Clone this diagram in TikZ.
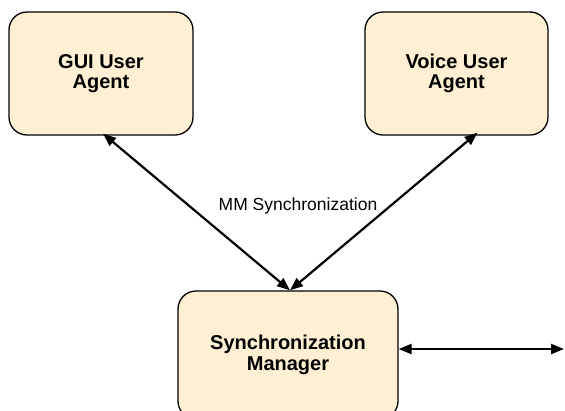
\documentclass[tikz,border=0pt]{standalone}
\usepackage{fontspec}
\setmainfont{Liberation Sans}
\usetikzlibrary{arrows.meta}
\definecolor{boxfill}{RGB}{255,240,212}
\tikzset{
  agentbox/.style={draw=black, line width=1.3pt, fill=boxfill, rounded corners=18pt,
    inner sep=0pt, align=center, font=\fontsize{20}{20.5}\selectfont\bfseries},
  conn/.style={line width=2.2pt, {Triangle[length=13pt,width=10pt]}-{Triangle[length=13pt,width=10pt]}},
  lbl/.style={font=\fontsize{17.5}{20}\selectfont, inner sep=0pt}
}
\begin{document}
\begin{tikzpicture}[x=1pt,y=-1pt]
\useasboundingbox (0,0) rectangle (565,410);
\clip (0,0) rectangle (565,410);
\node[agentbox, minimum width=184pt, minimum height=123pt] (gui) at (101,73.5) {\raisebox{-2pt}{\parbox{170pt}{\centering GUI User\\Agent}}};
\node[agentbox, minimum width=183pt, minimum height=123pt] (voice) at (456.5,73.5) {\raisebox{-2pt}{\parbox{170pt}{\centering Voice User\\Agent}}};
\node[agentbox, minimum width=220pt, minimum height=128pt] (sync) at (288,355) {\raisebox{-1pt}{\parbox{200pt}{\centering Synchronization\\Manager}}};
\coordinate (rend) at (564,349);
\draw[conn] ([xshift=2pt,yshift=2pt]gui.south) -- ([xshift=2pt]sync.north);
\draw[conn] ([xshift=21pt,yshift=3pt]voice.south) -- ([xshift=2pt]sync.north);
\draw[conn] ([yshift=6pt]sync.east) -- (rend);
\node[lbl, anchor=base] (mm) at (298,210) {MM Synchronization};
\end{tikzpicture}
\end{document}
